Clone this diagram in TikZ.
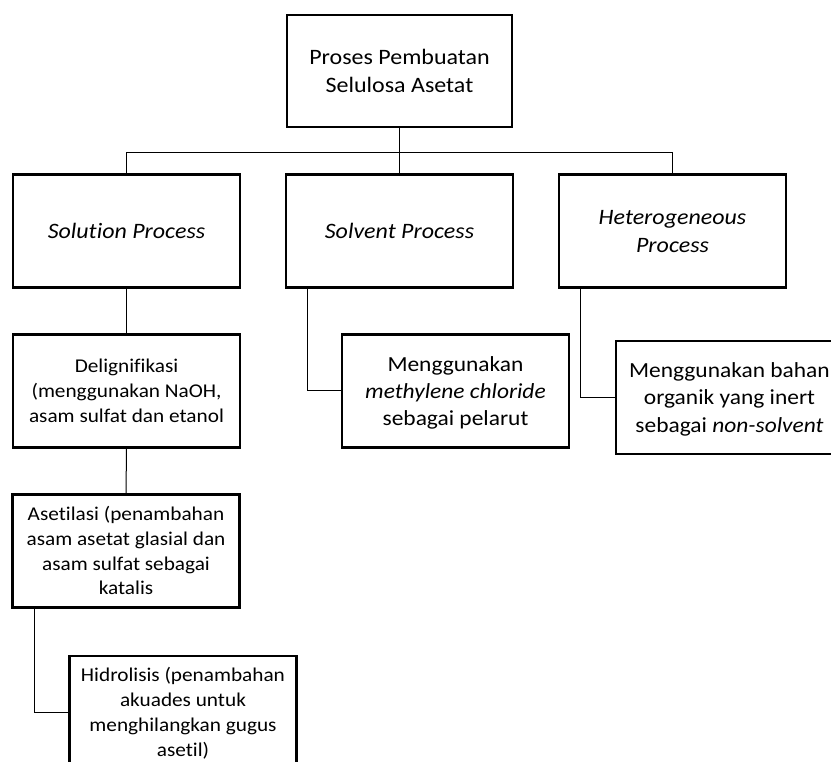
\documentclass[tikz,border=0pt]{standalone}
\usepackage{fontspec}
\setmainfont{Carlito}[FakeStretch=1.09,RawFeature={-liga}]
\newcommand\ws{\rule[-0.269em]{0pt}{1.221em}}
\tikzset{
  box/.style={draw=black, line width=2.2pt, fill=white, rectangle, inner sep=0pt,
    minimum width=227pt, minimum height=113pt, align=center},
  fbig/.style={font=\fontsize{22}{26.86}\selectfont},
  fmid/.style={font=\fontsize{21.5}{26.25}\selectfont},
  fsmall/.style={font=\fontsize{19.5}{23.8}\selectfont},
  conn/.style={draw=black, line width=1pt}
}
\begin{document}
\begin{tikzpicture}[x=1pt,y=-1pt]
\useasboundingbox (0,0) rectangle (831,762);
\clip (0,0) rectangle (831,762);
\fill[white] (0,0) rectangle (831,762);
% nodes
\node[box,fbig,minimum width=225pt,minimum height=112pt] (top) at (399.5,71) {\ws Proses Pembuatan\\\ws Selulosa Asetat};
\node[box,fbig] (sol) at (126.5,231) {\ws\itshape Solution Process};
\node[box,fbig] (solv) at (399.5,231) {\ws\itshape Solvent Process};
\node[box,fbig] (het) at (672.5,231) {\ws\itshape Heterogeneous\\\ws\itshape Process};
\node[box,fsmall] (del) at (126.5,391) {\ws Delignifikasi\\\ws (menggunakan NaOH,\\\ws asam sulfat dan etanol};
\node[box,fmid] (mc) at (455.5,391) {\ws Menggunakan\\\ws\itshape methylene chloride\\\ws sebagai pelarut};
\node[box,fmid] (org) at (729.5,397.5) {\ws Menggunakan bahan\\\ws organik yang inert\\\ws sebagai \textit{non-solvent}};
\node[box,fsmall] (ase) at (126,551) {\ws Asetilasi (penambahan\\\ws asam asetat glasial dan\\\ws asam sulfat sebagai\\\ws katalis};
\node[box,fsmall] (hid) at (183,712.5) {\ws Hidrolisis (penambahan\\\ws akuades untuk\\\ws menghilangkan gugus\\\ws asetil)};
% connectors
\draw[conn] (top.south) -- (solv.north);
\draw[conn] (top.south) -- ++(0,24) -| (sol.north);
\draw[conn] (top.south) -- ++(0,24) -| (het.north);
\draw[conn] (sol.south) -- (del.north);
\draw[conn] (del.south) -- (ase.north);
\draw[conn] ([xshift=23pt]solv.south west) |- (mc.west);
\draw[conn] ([xshift=23pt]het.south west) |- (org.west);
\draw[conn] ([xshift=23pt]ase.south west) |- (hid.west);
\end{tikzpicture}
\end{document}
